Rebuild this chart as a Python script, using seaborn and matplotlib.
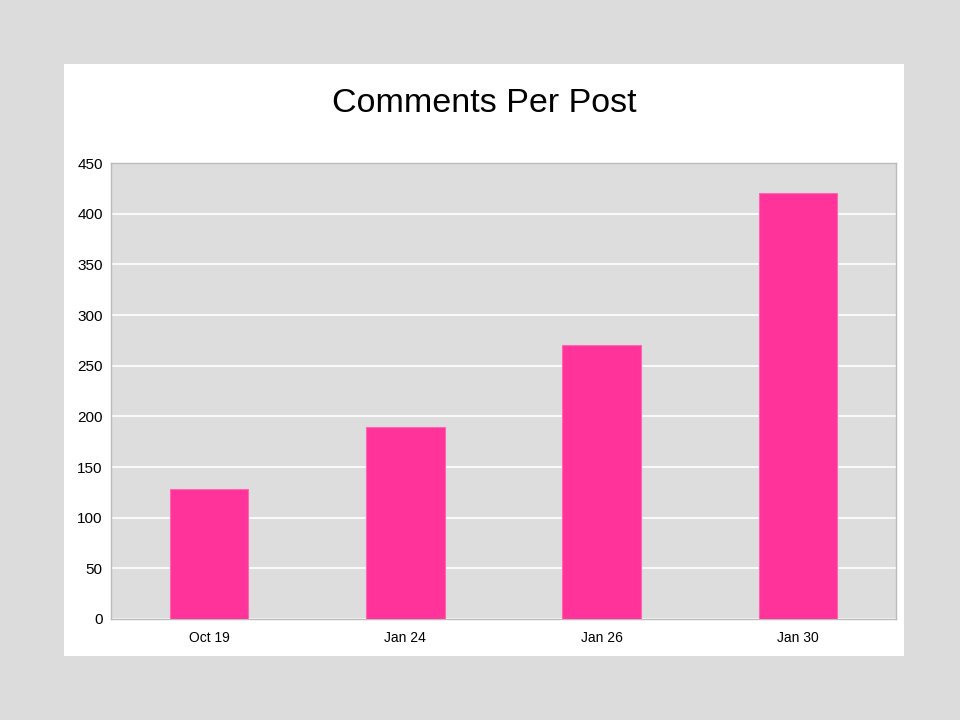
import matplotlib
matplotlib.use("Agg")
import matplotlib.pyplot as plt
import seaborn as sns
import pandas as pd
from matplotlib.patches import Rectangle

posts = ["Oct 19", "Jan 24", "Jan 26", "Jan 30"]
comments = [128, 189, 270, 420]
y_ticks = [0, 50, 100, 150, 200, 250, 300, 350, 400, 450]

df = pd.DataFrame({"Post": posts, "Comments": comments})

sns.set_theme(style="whitegrid")
plt.rcParams["font.family"] = ["Liberation Sans", "DejaVu Sans"]

fig = plt.figure(figsize=(9.6, 7.2), dpi=100, facecolor="#dcdcdc")
# white slide panel behind the chart
fig.patches.append(Rectangle((64 / 960, 1 - 656 / 720), 840 / 960, 592 / 720,
                             transform=fig.transFigure, facecolor="white",
                             edgecolor="none", zorder=-10))

ax = fig.add_axes([111 / 960, 1 - 619 / 720, 785 / 960, 456 / 720])
ax.set_facecolor("#dddddd")

sns.barplot(data=df, x="Post", y="Comments", color="#ff3399", width=0.4,
            saturation=1, edgecolor="#ff66b2", linewidth=0.8, ax=ax, zorder=3)

ax.set_ylim(0, 450)
ax.set_xlim(-0.5, 3.5)
ax.set_yticks(y_ticks)
ax.grid(axis="y", color="white", linewidth=1.2)
ax.grid(axis="x", visible=False)
ax.set_xlabel("")
ax.set_ylabel("")
for s in ax.spines.values():
    s.set_color("#bbbbbb")
    s.set_linewidth(1)
ax.tick_params(axis="y", labelsize=11, pad=6, length=0, colors="black")
ax.tick_params(axis="x", labelsize=10, pad=9, length=0, colors="black")

fig.text(484 / 960, 1 - 104 / 720, "Comments Per Post", ha="center",
         va="center", fontsize=24.5, color="black")

fig.savefig("out.png", dpi=100, facecolor=fig.get_facecolor())
